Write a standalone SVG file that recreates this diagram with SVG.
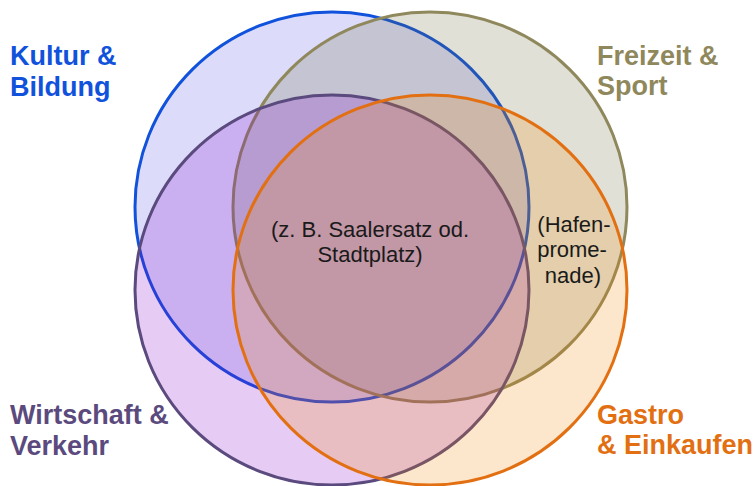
<svg xmlns="http://www.w3.org/2000/svg" width="753" height="486" viewBox="0 0 753 486">
<style>
.c{stroke-width:3}
.lbl{font-family:"Liberation Sans",Arial,sans-serif;font-weight:bold;font-size:27px}
.t{font-family:"Liberation Sans",Arial,sans-serif;font-size:22px;fill:#1a1a1a;text-anchor:middle}
</style>
<rect width="753" height="486" fill="#ffffff"/>
<g id="kultur">
<ellipse class="c" cx="332" cy="207" rx="197" ry="195" fill="rgb(80,80,230)" fill-opacity="0.2" stroke="#1152dc"/>
</g>
<g id="freizeit">
<ellipse class="c" cx="430" cy="207" rx="197" ry="195" fill="rgb(100,100,50)" fill-opacity="0.2" stroke="#8f885c"/>
</g>
<g id="wirtschaft">
<ellipse class="c" cx="332" cy="290" rx="197" ry="195" fill="rgb(130,0,200)" fill-opacity="0.2" stroke="#5b4a7e"/>
</g>
<g id="gastro">
<ellipse class="c" cx="430" cy="290" rx="197" ry="195" fill="rgb(245,135,0)" fill-opacity="0.2" stroke="#e27012"/>
</g>
<g id="labels">
<text class="lbl" fill="#1152dc"><tspan x="10" y="65">Kultur &amp;</tspan><tspan x="10" y="96">Bildung</tspan></text>
<text class="lbl" fill="#8f885c"><tspan x="597" y="65">Freizeit &amp;</tspan><tspan x="597" y="95">Sport</tspan></text>
<text class="lbl" fill="#5b4a7e"><tspan x="10" y="424">Wirtschaft &amp;</tspan><tspan x="10" y="455">Verkehr</tspan></text>
<text class="lbl" fill="#e27012"><tspan x="597" y="424">Gastro</tspan><tspan x="597" y="454">&amp; Einkaufen</tspan></text>
</g>
<g id="center">
<text class="t"><tspan x="370" y="237">(z. B. Saalersatz od.</tspan><tspan x="370" y="262">Stadtplatz)</tspan></text>
</g>
<g id="hafen">
<text class="t"><tspan x="574" y="232">(Hafen-</tspan><tspan x="572" y="257">prome-</tspan><tspan x="573" y="283">nade)</tspan></text>
</g>
</svg>
